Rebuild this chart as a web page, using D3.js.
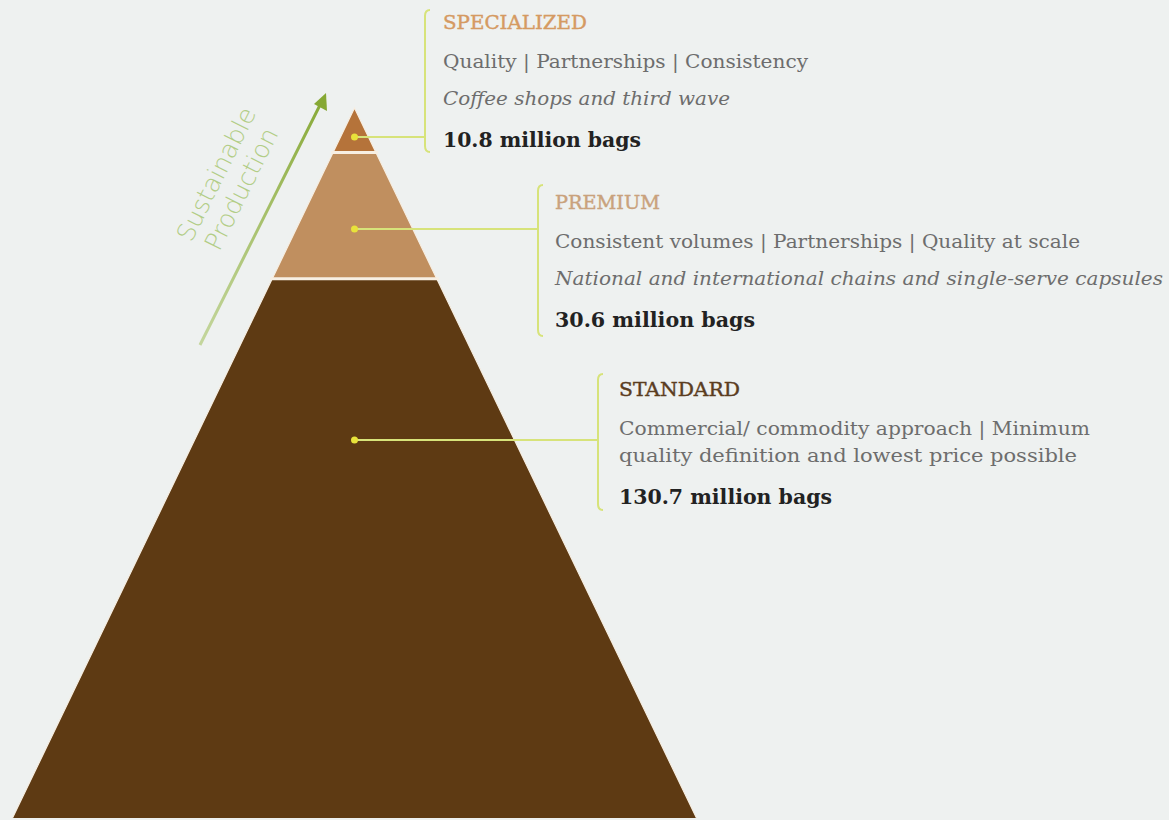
<!DOCTYPE html>
<html><head><meta charset="utf-8">
<script src="https://cdn.jsdelivr.net/npm/d3@7"></script>
<style>
html,body{margin:0;padding:0;background:#eef1f0;}
svg{display:block;}
</style></head>
<body>
<svg id="chart" width="1169" height="820"></svg>
<script>
// ---- data ----
const tiers = ["SPECIALIZED", "PREMIUM", "STANDARD"];
const volumes = [10.8, 30.6, 130.7];
const attributes = [
  ["Quality | Partnerships | Consistency"],
  ["Consistent volumes | Partnerships | Quality at scale"],
  ["Commercial/ commodity approach | Minimum", "quality definition and lowest price possible"]
];
const channels = ["Coffee shops and third wave", "National and international chains and single-serve capsules", null];
const volumeLabels = ["10.8 million bags", "30.6 million bags", "130.7 million bags"];
const arrowLabel = ["Sustainable", "Production"];

// ---- styles / layout ----
const fills = ["#b5733a", "#c08f5f", "#5e3a13"];
const titleColors = ["#d59a62", "#c9a27d", "#5b3d1f"];
const W = 1169, H = 820;
const apexY = 108, baseY = 818, cx = 354.5, halfBase = 342;
const titleW = [144, 105, 121];
const attrW = [[365], [525], [471, 458]];
const chanW = [287, 608, null];
const volW = [198, 200, 213];

const svg = d3.select("#chart");
svg.append("rect").attr("width", W).attr("height", H).attr("fill", "#eef1f0");

const total = d3.sum(volumes);
const cum = d3.cumsum(volumes);
const starts = [0, ...cum.slice(0, -1)];
const y = d3.scaleLinear().domain([0, total]).range([apexY, baseY]);
const hw = d3.scaleLinear().domain([0, total]).range([0, halfBase]);

const data = tiers.map((t, i) => ({
  tier: t, v: volumes[i], s: starts[i], e: cum[i], fill: fills[i]
}));

const line = d3.line();
svg.append("g").selectAll("path").data(data).join("path")
  .attr("d", d => line([
    [cx - hw(d.s), y(d.s)], [cx + hw(d.s), y(d.s)],
    [cx + hw(d.e), y(d.e)], [cx - hw(d.e), y(d.e)]
  ]) + "Z")
  .attr("fill", d => d.fill);

svg.append("path")
  .attr("d", line([[cx - hw(total), y(total)], [cx, y(0)], [cx + hw(total), y(total)]]))
  .attr("fill", "none").attr("stroke", "#f6eee2").attr("stroke-width", 1.2);

svg.append("g").selectAll("line").data(data.slice(0, -1)).join("line")
  .attr("x1", d => cx - hw(d.e) - 2).attr("x2", d => cx + hw(d.e) + 2)
  .attr("y1", d => y(d.e)).attr("y2", d => y(d.e))
  .attr("stroke", "#f7efe3").attr("stroke-width", 3);

const dotY = [137, 229, 440];
const bracketX = [425, 538, 598];
const bracketTop = [10, 185, 374];
const bracketBot = [152, 336, 510];
const textX = [443, 555, 619];
const titleY = [29, 209, 396];
const lineColor = "#d7e37a";

function fit(sel, w) {
  if (w) sel.attr("textLength", w).attr("lengthAdjust", "spacingAndGlyphs");
  return sel;
}

data.forEach((d, i) => {
  const g = svg.append("g");
  g.append("line").attr("x1", cx).attr("x2", bracketX[i])
    .attr("y1", dotY[i]).attr("y2", dotY[i])
    .attr("stroke", lineColor).attr("stroke-width", 2);
  const bx = bracketX[i], t = bracketTop[i], b = bracketBot[i];
  g.append("path")
    .attr("d", `M${bx + 5},${t} Q${bx},${t} ${bx},${t + 6} L${bx},${b - 6} Q${bx},${b} ${bx + 5},${b}`)
    .attr("fill", "none").attr("stroke", lineColor).attr("stroke-width", 2);
  g.append("circle").attr("cx", cx).attr("cy", dotY[i]).attr("r", 3.5).attr("fill", "#e8e23a");

  const tx = textX[i];
  let ty = titleY[i];
  fit(g.append("text").attr("x", tx).attr("y", ty)
    .attr("font-family", "'DejaVu Serif', serif").attr("font-size", 18.5)
    .attr("fill", titleColors[i])
    .attr("stroke", titleColors[i]).attr("stroke-width", 0.4)
    .text(d.tier), titleW[i]);
  ty += 39;
  const attr = attributes[i];
  attr.forEach((a, k) => {
    fit(g.append("text").attr("x", tx).attr("y", ty + k * 27)
      .attr("font-family", "'DejaVu Serif', serif").attr("font-size", 18.5)
      .attr("fill", "#6d6d6d").text(a), attrW[i][k]);
  });
  ty += (attr.length - 1) * 27;
  if (channels[i]) {
    ty += 37;
    fit(g.append("text").attr("x", tx).attr("y", ty)
      .attr("font-family", "'DejaVu Serif', serif").attr("font-size", 18.5)
      .attr("font-style", "italic")
      .attr("fill", "#6d6d6d").text(channels[i]), chanW[i]);
  }
  ty += 42;
  fit(g.append("text").attr("x", tx).attr("y", ty)
    .attr("font-family", "'DejaVu Serif', serif").attr("font-size", 20)
    .attr("font-weight", "bold")
    .attr("fill", "#222").text(volumeLabels[i]), volW[i]);
});

// sustainable production arrow
const defs = svg.append("defs");
const grad = defs.append("linearGradient").attr("id", "ag")
  .attr("gradientUnits", "userSpaceOnUse")
  .attr("x1", 200).attr("y1", 345).attr("x2", 325).attr("y2", 95);
grad.append("stop").attr("offset", 0).attr("stop-color", "#b9cf88").attr("stop-opacity", 0.8);
grad.append("stop").attr("offset", 1).attr("stop-color", "#86a834");
svg.append("line").attr("x1", 200).attr("y1", 345).attr("x2", 322).attr("y2", 101)
  .attr("stroke", "url(#ag)").attr("stroke-width", 3);
svg.append("path").attr("d", "M326,93 L327,111 L314,104 Z").attr("fill", "#86a834");

const angle = -Math.atan2(250, 125) * 180 / Math.PI;
const lblG = svg.append("g").attr("transform", `translate(224,178) rotate(${angle})`);
arrowLabel.forEach((s, k) => {
  lblG.append("text").attr("x", k * -2).attr("y", k * 29)
    .attr("text-anchor", "middle")
    .attr("font-family", "'DejaVu Sans', sans-serif").attr("font-size", 25)
    .attr("font-weight", 300)
    .attr("fill", "#b2cd86").text(s);
});
</script>
</body></html>
